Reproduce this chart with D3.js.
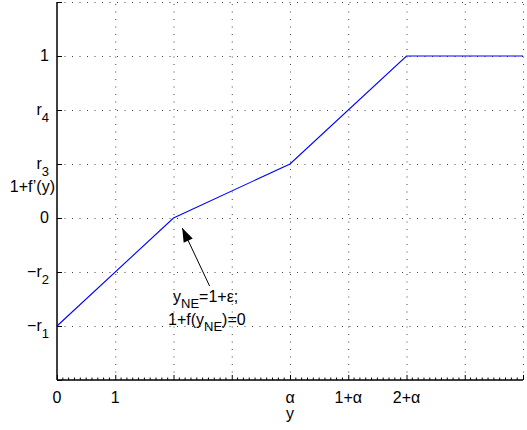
<!DOCTYPE html>
<html>
<head>
<meta charset="utf-8">
<script src="https://cdn.jsdelivr.net/npm/d3@7"></script>
<style>
  body { margin: 0; background: #fff; }
  text { font-family: "Liberation Sans", Arial, sans-serif; fill: #000; }
</style>
</head>
<body>
<div id="chart"></div>
<script>
// data (abstract units)
const lineX = [0, 2, 4, 6, 8];
const lineY = [-2, 0, 1, 3, 3];

const xTickVals = [0, 1, 2, 3, 4, 5, 6, 7, 8];
const xTickLabels = ["0", "1", "", "", "α", "1+α", "2+α", "", ""];
const yTickVals = [-3, -2, -1, 0, 1, 2, 3, 4];
const yTickLabels = [["", ""], ["−r", "1"], ["−r", "2"], ["0", ""], ["r", "3"], ["r", "4"], ["1", ""], ["", ""]];

const W = 527, H = 430;
const margin = { top: 2, right: 4, bottom: 50, left: 57 };

const svg = d3.select("#chart").append("svg")
  .attr("width", W).attr("height", H);

const x = d3.scaleLinear().domain([0, 8]).range([margin.left, W - margin.right]);
const y = d3.scaleLinear().domain([-3, 4]).range([H - margin.bottom, margin.top]);

// grid
const grid = svg.append("g")
  .attr("stroke", "#444").attr("stroke-width", 1)
  .attr("stroke-dasharray", "1,6.5");
grid.selectAll(".gx").data(xTickVals.slice(1)).enter().append("line")
  .attr("x1", d => x(d) + 0.5).attr("x2", d => x(d) + 0.5)
  .attr("y1", y(-3)).attr("y2", y(4));
grid.selectAll(".gy").data(yTickVals.slice(1)).enter().append("line")
  .attr("x1", x(0)).attr("x2", x(8))
  .attr("y1", d => y(d) + 0.5).attr("y2", d => y(d) + 0.5);

// axes
const xAxis = d3.axisBottom(x).tickValues(xTickVals).tickSize(-5).tickFormat("");
const gx = svg.append("g").attr("transform", `translate(0,${y(-3)})`).call(xAxis);
gx.select(".domain").remove();
gx.selectAll("line").attr("stroke", "#000");

const minor = d3.range(0, 80).map(i => i / 10).filter(v => Math.abs(v - Math.round(v)) > 1e-6);
svg.append("g").selectAll("line").data(minor).enter().append("line")
  .attr("x1", d => x(d)).attr("x2", d => x(d))
  .attr("y1", y(-3)).attr("y2", y(-3) - 2.5)
  .attr("stroke", "#000").attr("stroke-width", 1);

const yAxis = d3.axisLeft(y).tickValues(yTickVals).tickSize(-5).tickFormat("");
const gy = svg.append("g").attr("transform", `translate(${x(0)},0)`).call(yAxis);
gy.select(".domain").remove();
gy.selectAll("line").attr("stroke", "#000");

svg.append("line").attr("x1", x(0)).attr("x2", x(8))
  .attr("y1", y(-3)).attr("y2", y(-3)).attr("stroke", "#000").attr("stroke-width", 1.5);
svg.append("line").attr("x1", x(0)).attr("x2", x(0))
  .attr("y1", y(4)).attr("y2", y(-3)).attr("stroke", "#000").attr("stroke-width", 1.5);

// tick labels
svg.append("g").selectAll("text").data(xTickVals).enter().append("text")
  .attr("x", d => x(d)).attr("y", y(-3) + 23)
  .attr("text-anchor", "middle").attr("font-size", 16)
  .text((d, i) => xTickLabels[i]);

const yl = svg.append("g").selectAll("text").data(yTickVals).enter().append("text")
  .attr("x", x(0) - 8).attr("y", d => y(d) + 5)
  .attr("text-anchor", "end").attr("font-size", 16);
yl.append("tspan").text((d, i) => yTickLabels[i][0]);
yl.append("tspan").attr("dy", 7).attr("font-size", 13)
  .text((d, i) => yTickLabels[i][1]);

// axis labels
svg.append("text").attr("x", x(4)).attr("y", y(-3) + 39)
  .attr("text-anchor", "middle").attr("font-size", 16).text("y");
svg.append("text").attr("x", 55).attr("y", 192)
  .attr("text-anchor", "end").attr("font-size", 16).text("1+f’(y)");

// curve
svg.append("path")
  .datum(lineX.map((v, i) => [v, lineY[i]]))
  .attr("fill", "none").attr("stroke", "#0000ff").attr("stroke-width", 1.1)
  .attr("d", d3.line().x(d => x(d[0])).y(d => y(d[1])));

// annotation arrow
const tip = [x(2.15), y(-0.185)], tail = [x(2.62), y(-1.26)];
svg.append("line").attr("x1", tail[0]).attr("y1", tail[1])
  .attr("x2", tip[0]).attr("y2", tip[1]).attr("stroke", "#000").attr("stroke-width", 1);
const ang = Math.atan2(tip[1] - tail[1], tip[0] - tail[0]);
const hl = 14, hw = 5;
const bx = tip[0] - hl * Math.cos(ang), by = tip[1] - hl * Math.sin(ang);
svg.append("path")
  .attr("d", `M${tip[0]},${tip[1]}L${bx + hw * Math.sin(ang)},${by - hw * Math.cos(ang)}L${bx - hw * Math.sin(ang)},${by + hw * Math.cos(ang)}Z`)
  .attr("fill", "#000");

const t1 = svg.append("text").attr("x", 173).attr("y", 302).attr("font-size", 16);
t1.append("tspan").text("y");
t1.append("tspan").attr("dy", 6).attr("font-size", 13).text("NE");
t1.append("tspan").attr("dy", -6).text("=1+ε;");

const t2 = svg.append("text").attr("x", 168).attr("y", 325).attr("font-size", 16);
t2.append("tspan").text("1+f(y");
t2.append("tspan").attr("dy", 6).attr("font-size", 13).text("NE");
t2.append("tspan").attr("dy", -6).text(")=0");
</script>
</body>
</html>
